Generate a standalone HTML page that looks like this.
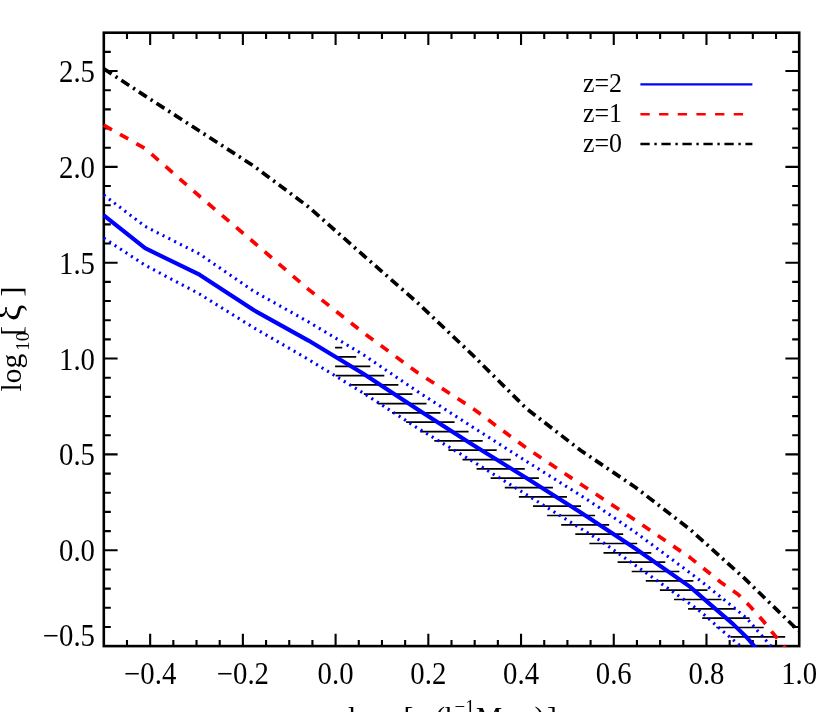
<!DOCTYPE html>
<html><head><meta charset="utf-8"><title>chart</title>
<style>
html,body{margin:0;padding:0;background:#fff;}
body{width:830px;height:712px;overflow:hidden;}
svg{display:block;will-change:transform;}
text{font-family:"Liberation Serif",serif;fill:#000;}
</style></head><body>
<svg width="830" height="712" viewBox="0 0 830 712">
<rect x="0" y="0" width="830" height="712" fill="#fff"/>
<defs><clipPath id="c"><rect x="100.8" y="31.400000000000002" width="699.7" height="615.6"/></clipPath></defs>
<path d="M126.98,646.1v-6.2M126.98,32.7v6.2M150.16,646.1v-12.3M150.16,32.7v12.3M173.34,646.1v-6.2M173.34,32.7v6.2M196.52,646.1v-6.2M196.52,32.7v6.2M219.70,646.1v-6.2M219.70,32.7v6.2M242.88,646.1v-12.3M242.88,32.7v12.3M266.06,646.1v-6.2M266.06,32.7v6.2M289.24,646.1v-6.2M289.24,32.7v6.2M312.42,646.1v-6.2M312.42,32.7v6.2M335.60,646.1v-12.3M335.60,32.7v12.3M358.78,646.1v-6.2M358.78,32.7v6.2M381.96,646.1v-6.2M381.96,32.7v6.2M405.14,646.1v-6.2M405.14,32.7v6.2M428.32,646.1v-12.3M428.32,32.7v12.3M451.50,646.1v-6.2M451.50,32.7v6.2M474.68,646.1v-6.2M474.68,32.7v6.2M497.86,646.1v-6.2M497.86,32.7v6.2M521.04,646.1v-12.3M521.04,32.7v12.3M544.22,646.1v-6.2M544.22,32.7v6.2M567.40,646.1v-6.2M567.40,32.7v6.2M590.58,646.1v-6.2M590.58,32.7v6.2M613.76,646.1v-12.3M613.76,32.7v12.3M636.94,646.1v-6.2M636.94,32.7v6.2M660.12,646.1v-6.2M660.12,32.7v6.2M683.30,646.1v-6.2M683.30,32.7v6.2M706.48,646.1v-12.3M706.48,32.7v12.3M729.66,646.1v-6.2M729.66,32.7v6.2M752.84,646.1v-6.2M752.84,32.7v6.2M776.02,646.1v-6.2M776.02,32.7v6.2M103.8,626.93h7.0M799.2,626.93h-7.0M103.8,607.76h7.0M799.2,607.76h-7.0M103.8,588.59h7.0M799.2,588.59h-7.0M103.8,569.43h7.0M799.2,569.43h-7.0M103.8,550.26h13.8M799.2,550.26h-13.8M103.8,531.09h7.0M799.2,531.09h-7.0M103.8,511.92h7.0M799.2,511.92h-7.0M103.8,492.75h7.0M799.2,492.75h-7.0M103.8,473.58h7.0M799.2,473.58h-7.0M103.8,454.41h13.8M799.2,454.41h-13.8M103.8,435.24h7.0M799.2,435.24h-7.0M103.8,416.08h7.0M799.2,416.08h-7.0M103.8,396.91h7.0M799.2,396.91h-7.0M103.8,377.74h7.0M799.2,377.74h-7.0M103.8,358.57h13.8M799.2,358.57h-13.8M103.8,339.40h7.0M799.2,339.40h-7.0M103.8,320.23h7.0M799.2,320.23h-7.0M103.8,301.06h7.0M799.2,301.06h-7.0M103.8,281.89h7.0M799.2,281.89h-7.0M103.8,262.73h13.8M799.2,262.73h-13.8M103.8,243.56h7.0M799.2,243.56h-7.0M103.8,224.39h7.0M799.2,224.39h-7.0M103.8,205.22h7.0M799.2,205.22h-7.0M103.8,186.05h7.0M799.2,186.05h-7.0M103.8,166.88h13.8M799.2,166.88h-13.8M103.8,147.71h7.0M799.2,147.71h-7.0M103.8,128.54h7.0M799.2,128.54h-7.0M103.8,109.38h7.0M799.2,109.38h-7.0M103.8,90.21h7.0M799.2,90.21h-7.0M103.8,71.04h13.8M799.2,71.04h-13.8M103.8,51.87h7.0M799.2,51.87h-7.0" stroke="#000" stroke-width="2.1" fill="none"/>
<rect x="103.8" y="32.7" width="695.4" height="613.4" fill="none" stroke="#000" stroke-width="2.6"/>
<path d="M335.1,347.6H342.2M335.1,356.9H356.2M335.1,366.3H370.3M335.6,375.6H384.3M349.7,384.9H398.4M363.8,394.2H412.4M377.9,403.6H426.5M392.0,412.9H440.5M406.1,422.2H454.6M420.2,431.6H468.6M434.3,440.9H482.7M448.4,450.2H496.7M462.5,459.6H510.8M476.6,468.9H524.8M490.7,478.2H538.9M504.8,487.6H552.9M518.9,496.9H567.0M533.0,506.2H581.0M547.1,515.5H595.1M561.2,524.9H609.1M575.3,534.2H623.2M589.4,543.5H637.2M603.5,552.9H651.3M617.6,562.2H665.3M631.7,571.5H679.4M645.8,580.9H693.4M659.9,590.2H707.5M674.0,599.5H721.5M688.1,608.8H735.6M702.2,618.2H749.6M716.3,627.5H763.7M730.4,636.8H785.2" stroke="#000" stroke-width="1.7" fill="none"/>
<g clip-path="url(#c)" fill="none" stroke-linejoin="round">
<path d="M103.8,195.0 L145.1,226.4 L199.5,254.0 L254.0,291.4 L308.5,321.9 L363.0,354.5 L417.4,391.4 L471.9,426.6 L526.4,461.3 L580.8,495.5 L600.3,508.3 L635.3,532.3 L689.8,572.6 L706.3,585.4 L731.7,605.9 L742.0,614.3 L746.9,618.5 L751.2,623.4 L755.4,628.4 L759.7,633.3 L764.1,638.2 L768.3,643.1 L772.5,648.0" stroke="#0000ff" stroke-width="3.1" stroke-dasharray="2.1 4.4"/>
<path d="M103.8,238.1 L145.1,265.2 L199.5,294.0 L254.0,327.9 L308.5,359.5 L363.0,392.8 L417.4,428.0 L471.9,460.8 L526.4,494.6 L580.8,528.5 L600.3,540.7 L697.2,609.0 L707.3,617.4 L717.1,626.2 L726.8,634.6 L736.9,643.0 L742.5,648.0" stroke="#0000ff" stroke-width="3.1" stroke-dasharray="2.1 4.4"/>
<path d="M103.8,215.4 L145.1,248.2 L199.5,274.7 L254.0,310.3 L308.5,340.6 L363.0,373.5 L417.4,409.3 L471.9,444.2 L526.4,478.0 L580.8,512.5 L635.3,548.5 L689.8,586.6 L710.5,604.6 L732.6,623.6 L746.6,637.2 L754.2,646.0 L757.0,649.3" stroke="#0000ff" stroke-width="4.1"/>
<path d="M103.8,125.2 L145.1,148.5 L199.5,196.2 L254.0,242.5 L308.5,289.4 L363.0,332.5 L417.4,372.5 L471.9,407.8 L526.4,448.0 L580.8,484.2 L635.3,520.2 L689.8,557.4 L720.8,582.2 L738.2,594.5 L750.5,606.7 L762.8,620.5 L775.0,635.7 L785.2,648.0" stroke="#ff0000" stroke-width="3.7" stroke-dasharray="9.33 9.34"/>
<path d="M103.8,68.8 L145.1,95.9 L199.5,131.0 L254.0,166.2 L308.5,206.9 L363.0,255.0 L417.4,302.6 L471.9,354.3 L526.4,408.5 L580.8,450.5 L635.3,487.2 L689.8,529.2 L744.3,578.2 L798.7,631.0" stroke="#000" stroke-width="3.7" stroke-dasharray="9.33 4.67 2.33 4.67"/>
</g>
<text transform="translate(150.16,683.60) scale(1.0,1.085)" font-size="28.8" text-anchor="middle">−0.4</text>
<text transform="translate(242.88,683.60) scale(1.0,1.085)" font-size="28.8" text-anchor="middle">−0.2</text>
<text transform="translate(335.60,683.60) scale(1.0,1.085)" font-size="28.8" text-anchor="middle">0.0</text>
<text transform="translate(428.32,683.60) scale(1.0,1.085)" font-size="28.8" text-anchor="middle">0.2</text>
<text transform="translate(521.04,683.60) scale(1.0,1.085)" font-size="28.8" text-anchor="middle">0.4</text>
<text transform="translate(613.76,683.60) scale(1.0,1.085)" font-size="28.8" text-anchor="middle">0.6</text>
<text transform="translate(706.48,683.60) scale(1.0,1.085)" font-size="28.8" text-anchor="middle">0.8</text>
<text transform="translate(799.20,683.60) scale(1.0,1.085)" font-size="28.8" text-anchor="middle">1.0</text>
<text transform="translate(95.00,645.90) scale(1.0,1.085)" font-size="28.8" text-anchor="end">−0.5</text>
<text transform="translate(95.00,561.26) scale(1.0,1.085)" font-size="28.8" text-anchor="end">0.0</text>
<text transform="translate(95.00,465.41) scale(1.0,1.085)" font-size="28.8" text-anchor="end">0.5</text>
<text transform="translate(95.00,369.57) scale(1.0,1.085)" font-size="28.8" text-anchor="end">1.0</text>
<text transform="translate(95.00,273.73) scale(1.0,1.085)" font-size="28.8" text-anchor="end">1.5</text>
<text transform="translate(95.00,177.88) scale(1.0,1.085)" font-size="28.8" text-anchor="end">2.0</text>
<text transform="translate(95.00,82.04) scale(1.0,1.085)" font-size="28.8" text-anchor="end">2.5</text>
<text transform="translate(20.80,391.40) rotate(-90) scale(1.0,1.0)" font-size="29.5" text-anchor="start"><tspan x="0" y="0">log</tspan><tspan x="40.6" y="8" font-size="19.0">10</tspan><tspan x="55.6" y="0">[</tspan><tspan x="70.3" y="0" font-size="36.9">ξ</tspan><tspan x="94.8" y="0">]</tspan></text>
<text transform="translate(348.00,727.00) scale(1.0,1.0)" font-size="29.5" text-anchor="start"><tspan x="0" y="0">log</tspan><tspan x="40.6" y="8" font-size="19.0">10</tspan><tspan x="55.6" y="0">[</tspan><tspan x="72" y="0">r</tspan><tspan x="87.3" y="0">(h</tspan><tspan x="106.5" y="-14.5" font-size="19.0">−1</tspan><tspan x="128" y="0">Mpc</tspan><tspan x="186.5" y="0">)</tspan><tspan x="199" y="0">]</tspan></text>
<text transform="translate(583.00,92.00) scale(1.0,1.04)" font-size="25.9" text-anchor="start">z=2</text>
<text transform="translate(583.00,121.80) scale(1.0,1.04)" font-size="25.9" text-anchor="start">z=1</text>
<text transform="translate(583.00,151.50) scale(1.0,1.04)" font-size="25.9" text-anchor="start">z=0</text>
<path d="M640.4,84.4H752.4" stroke="#0000ff" stroke-width="2.4" fill="none"/>
<path d="M640.4,114.3H752.4" stroke="#ff0000" stroke-width="2.4" stroke-dasharray="9.33 9.34" fill="none"/>
<path d="M640.4,144.0H752.4" stroke="#000" stroke-width="2.4" stroke-dasharray="9.33 4.67 2.33 4.67" fill="none"/>
</svg></body></html>
